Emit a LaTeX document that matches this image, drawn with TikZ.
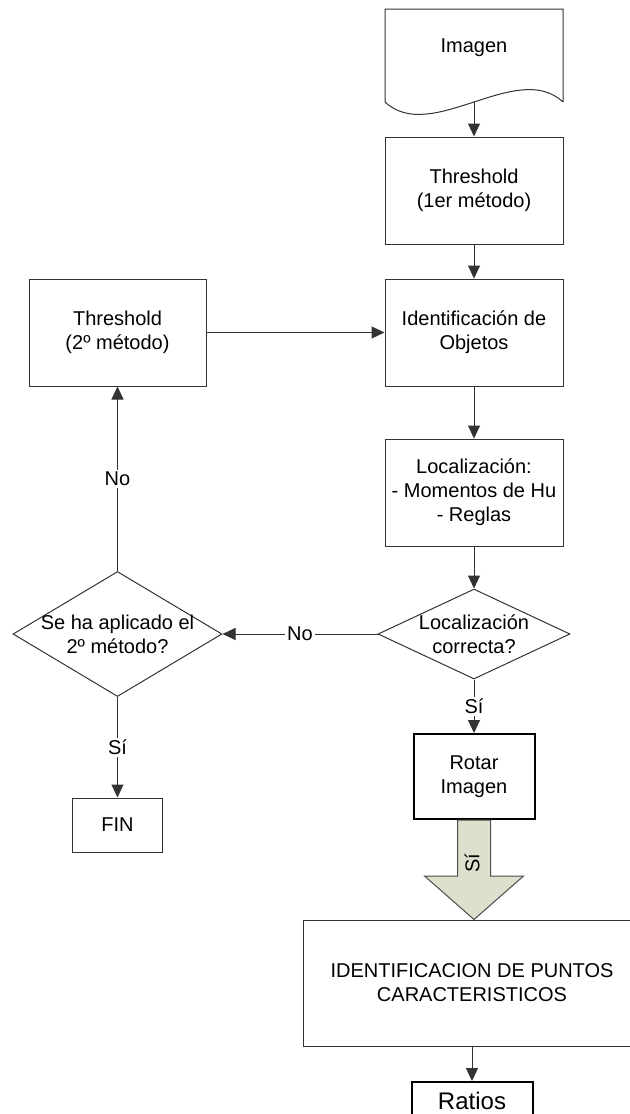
\documentclass[tikz,border=0pt]{standalone}
\usepackage{fontspec}
\setmainfont{Liberation Sans}
\usetikzlibrary{shapes.geometric,arrows.meta,calc}

\definecolor{arrowfill}{RGB}{221,224,204}
\tikzset{
  box/.style={draw=black!80, line width=0.5pt, align=center, minimum width=89pt, minimum height=53.5pt, inner sep=2pt},
  thickbox/.style={box, draw=black, line width=1pt},
  decision/.style={draw=black!80, line width=0.5pt, shape=diamond, inner sep=0pt},
  flow/.style={draw=black!80, line width=0.5pt, -{Triangle[length=6.5pt,width=6pt]}},
  lbl/.style={fill=white, inner sep=1pt},
  blockarrow/.style={fill=arrowfill, draw=black!70, line width=0.5pt},
}

\begin{document}
\begin{tikzpicture}[x=0.5pt,y=-0.5pt,font=\fontsize{10}{12}\selectfont]
\useasboundingbox (0,0) rectangle (630,1114);
\clip (0,0) rectangle (630,1114);

\draw[draw=black!80, line width=0.5pt] (563,102) -- (563,9) -- (385,9) -- (385,102) .. controls (431,145) and (517,59) .. (563,102);
\node (img) at (474,48) {Imagen};
\coordinate (imgout) at (474,102);

\node[box] (th1) at (474,190.5) {Threshold\\(1er método)};
\node[box] (obj) at (474,332.5) {Identificación de\\Objetos};
\node[box, minimum width=88.5pt] (th2) at (117.5,332.5) {Threshold\\(2º método)};
\node[box] (loc) at (474,492.5) {Localización:\\- Momentos de Hu\\- Reglas};

\node[decision, minimum width=96pt, minimum height=45pt] (dec1) at (474,634) {};
\node[align=center] (dec1txt) at (dec1) {Localización\\correcta?};
\node[decision, minimum width=104.5pt, minimum height=62.5pt] (dec2) at (117.5,634) {};
\node[align=center] (dec2txt) at (dec2) {Se ha aplicado el\\2º método?};

\node[box, minimum width=45pt, minimum height=27pt] (fin) at (117.5,825) {FIN};
\node[thickbox, minimum width=60.5pt, minimum height=42.5pt] (rot) at (474,776.5) {Rotar\\Imagen};
\node[box, minimum width=169pt, minimum height=63pt] (ident) at (472,983) {IDENTIFICACION DE PUNTOS\\CARACTERISTICOS};
\node[thickbox, minimum width=60.5pt, minimum height=19pt, font=\fontsize{12}{14}\selectfont] (ratios) at (472,1101) {Ratios};

\draw[flow] (imgout) -- (th1);
\draw[flow] (th1) -- (obj);
\draw[flow] (th2) -- (obj);
\draw[flow] (obj) -- (loc);
\draw[flow] (loc) -- (dec1);
\draw[flow] (dec1) -- node[lbl] (no1) {No} (dec2);
\draw[flow] (dec2) -- node[lbl] (no2) {No} (th2);
\draw[flow] (dec2) -- node[lbl] (si1) {Sí} (fin);
\draw[flow] (dec1) -- node[lbl] (si2) {Sí} (rot);
\draw[flow] (ident) -- (ratios);

% flecha gruesa
\draw[blockarrow] ($(rot.south)+(-16.5,0)$) -- ($(rot.south)+(16.5,0)$) -- ++(0,56) -- ++(33,0)
  -- (rot.south |- ident.north) -- ($(rot.south)+(-49.5,56)$) -- ++(33,0) -- cycle;
\node[rotate=90] (si3) at (472,863) {Sí};
\end{tikzpicture}
\end{document}
